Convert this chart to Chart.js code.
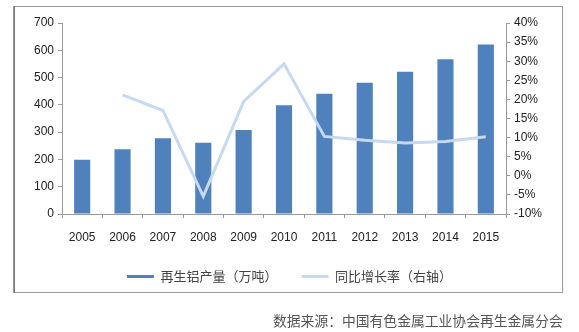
<!DOCTYPE html>
<html>
<head>
<meta charset="utf-8">
<script src="https://cdn.jsdelivr.net/npm/chart.js@4.4.1/dist/chart.umd.min.js"></script>
<style>
  html, body { margin: 0; padding: 0; background: #fff; }
  #wrap { position: relative; width: 579px; height: 332px; }
  #source { position: absolute; left: 273px; top: 310px; font: 13.8px "Noto Sans CJK SC", sans-serif; color: #555; white-space: nowrap; }
</style>
</head>
<body>
<div id="wrap">
  <canvas id="myChart" width="579" height="332"></canvas>
  <div id="source">数据来源：中国有色金属工业协会再生金属分会</div>
</div>
<script>
const years = ['2005', '2006', '2007', '2008', '2009', '2010', '2011', '2012', '2013', '2014', '2015'];
const output = [199, 237, 278, 261, 308, 399, 441, 481, 521, 567, 621];
const growth = [null, 21.2, 17.1, -5.4, 19.5, 29.3, 10.3, 9.3, 8.6, 9.0, 10.2];
const leftTicks = [0, 700, 100];
const rightTicks = [-10, 40, 5];

// frame around the chart
const frame = {
    id: 'frame',
    beforeDraw(chart) {
        const c = chart.ctx;
        c.save();
        c.strokeStyle = '#9a9a9a';
        c.lineWidth = 1;
        c.strokeRect(13.5, 6.5, 549, 286);
        c.strokeStyle = '#777';
        c.beginPath();
        c.moveTo(14.5, 6);
        c.lineTo(14.5, 293);
        c.stroke();
        c.restore();
    }
};

const ctx = document.getElementById('myChart').getContext('2d');
const myChart = new Chart(ctx, {
    type: 'bar',
    data: {
        labels: years,
        datasets: [{
            type: 'line',
            label: '同比增长率（右轴）',
            data: growth,
            yAxisID: 'y1',
            borderColor: '#c6d9f1',
            backgroundColor: '#c6d9f1',
            borderWidth: 3,
            pointRadius: 0,
            tension: 0,
            order: 0
        }, {
            label: '再生铝产量（万吨）',
            data: output,
            yAxisID: 'y',
            backgroundColor: '#4f81bd',
            categoryPercentage: 1,
            barPercentage: 0.4,
            order: 1
        }]
    },
    options: {
        responsive: false,
        animation: false,
        layout: { padding: { left: 0, right: 0, top: 23, bottom: 39 } },
        plugins: {
            legend: {
                position: 'bottom',
                reverse: true,
                labels: {
                    boxWidth: 27,
                    boxHeight: 3,
                    padding: 24,
                    color: '#444',
                    font: { family: '"Noto Sans CJK SC", sans-serif', size: 13 },
                    generateLabels(chart) {
                        const items = Chart.defaults.plugins.legend.labels.generateLabels(chart);
                        items.forEach(it => { it.lineWidth = 0; });
                        return items;
                    }
                }
            },
            tooltip: { enabled: false }
        },
        scales: {
            x: {
                grid: { display: true, drawOnChartArea: false, offset: true, color: '#999', tickLength: 4 },
                border: { color: '#999' },
                ticks: { color: '#222', font: { family: '"Liberation Sans", sans-serif', size: 12 }, padding: 12 },
                afterFit(s) { s.height = 32; }
            },
            y: {
                position: 'left',
                min: leftTicks[0], max: leftTicks[1],
                ticks: { stepSize: leftTicks[2], color: '#222', font: { family: '"Liberation Sans", sans-serif', size: 12 }, padding: 4 },
                grid: { display: true, drawOnChartArea: false, color: '#999', tickLength: 4 },
                border: { color: '#999' },
                afterFit(s) { s.width = 62; }
            },
            y1: {
                position: 'right',
                min: rightTicks[0], max: rightTicks[1],
                ticks: {
                    stepSize: rightTicks[2], color: '#222',
                    font: { family: '"Liberation Sans", sans-serif', size: 12 }, padding: 4,
                    callback: v => v + '%'
                },
                grid: { display: true, drawOnChartArea: false, color: '#999', tickLength: 4 },
                border: { color: '#999' },
                afterFit(s) { s.width = 73; }
            }
        }
    },
    plugins: [frame]
});
</script>
</body>
</html>
